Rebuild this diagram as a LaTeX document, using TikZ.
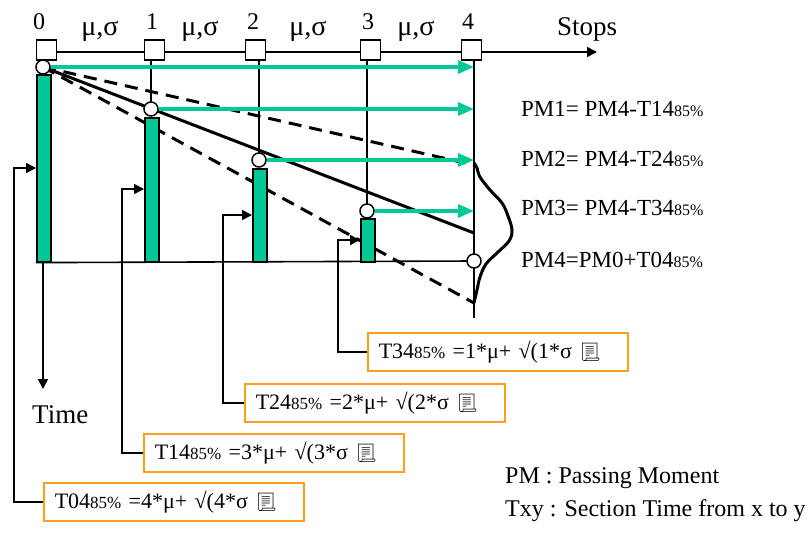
\documentclass[tikz,border=0pt]{standalone}
\usepackage{fontspec}
\setmainfont{Liberation Serif}
\newfontfamily\emojifont{Noto Emoji}
\usetikzlibrary{arrows.meta,backgrounds}
\definecolor{bargreen}{RGB}{0,200,150}
\definecolor{boxorange}{RGB}{250,160,30}
\newcommand\subpct[1][17]{{\fontsize{#1}{#1}\selectfont 85\%}}
\newcommand\docicon{{\emojifont\fontsize{18}{18}\selectfont 📃}}
\begin{document}
\begin{tikzpicture}[x=1pt,y=-1pt,
  thinline/.style={line width=1.6pt},
  stopbox/.style={draw, fill=white, minimum size=20pt, inner sep=0pt, line width=1.4pt},
  pmcircle/.style={circle, draw, fill=white, minimum size=14pt, inner sep=0pt, line width=1.5pt},
  barbox/.style={draw, fill=bargreen, line width=1.6pt, minimum width=14pt, inner sep=0pt, anchor=north west},
  garrow/.style={draw=bargreen, line width=3.2pt, -{Triangle[length=16pt,width=13pt]}},
  mainline/.style={line width=3pt},
  dashline/.style={line width=3pt, dash pattern=on 13pt off 8pt},
  brarrow/.style={thinline, -{Triangle[length=10pt,width=10pt]}},
  fbox/.style={draw=boxorange, line width=1.6pt, minimum height=38pt, text width=238pt, inner xsep=11pt, inner ysep=0pt, align=left, anchor=west, font=\fontsize{22}{24}\selectfont},
  digit/.style={anchor=base, inner sep=0pt, font=\fontsize{24}{26}\selectfont},
  musig/.style={anchor=base, inner sep=0pt, font=\fontsize{28}{30}\selectfont},
  pmlabel/.style={anchor=base west, inner sep=0pt, font=\fontsize{23}{26}\selectfont},
  legend/.style={anchor=base west, inner sep=0pt, font=\fontsize{24}{26}\selectfont},
  bigtext/.style={anchor=base west, inner sep=0pt, font=\fontsize{27}{30}\selectfont}
]
\useasboundingbox (0,0) rectangle (809,538);

% stop boxes on the top axis
\node[stopbox] (s0) at (46.5,50) {};
\node[stopbox] (s1) at (154.5,50) {};
\node[stopbox] (s2) at (255.5,50) {};
\node[stopbox] (s3) at (370.5,50) {};
\node[stopbox] (s4) at (471.5,50) {};
\coordinate (stopsend) at (597,52);
\draw[thinline] (s0.east |- 0,52) -- (s1.west |- 0,52);
\draw[thinline] (s1.east |- 0,52) -- (s2.west |- 0,52);
\draw[thinline] (s2.east |- 0,52) -- (s3.west |- 0,52);
\draw[thinline] (s3.east |- 0,52) -- (s4.west |- 0,52);
\draw[brarrow] (s4.east |- 0,52) -- (stopsend);

% labels above the axis
\node[digit] (d0) at (39,29) {0};
\node[digit] (d1) at (152,29) {1};
\node[digit] (d2) at (253,29) {2};
\node[digit] (d3) at (368,29) {3};
\node[digit] (d4) at (468,29) {4};
\node[musig] (m1) at (100,35) {μ,σ};
\node[musig] (m2) at (200,35) {μ,σ};
\node[musig] (m3) at (308,35) {μ,σ};
\node[musig] (m4) at (416,35) {μ,σ};
\node[bigtext] (stops) at (557,35) {Stops};

% passing-moment circles
\node[pmcircle] (c0) at (43,67) {};
\node[pmcircle] (c1) at (151,109) {};
\node[pmcircle] (c2) at (259,160) {};
\node[pmcircle] (c3) at (367,211) {};
\node[pmcircle] (c4) at (474,261) {};

% bars
\node[barbox, minimum height=187pt] (b0) at (36,74) {};
\node[barbox, minimum height=144pt] (b1) at (144,117) {};
\node[barbox, minimum height=93pt] (b2) at (252,168) {};
\node[barbox, minimum height=43pt] (b3) at (360,218) {};

\coordinate (v4end) at (474,318);
\coordinate (esolid) at (474,233);
\coordinate (edashup) at (474,165);
\coordinate (edashlo) at (474,303);

\begin{scope}[on background layer]
  % thin verticals
  \draw[thinline] (c1 |- s1.south) -- (c1.center);
  \draw[thinline] (c2 |- s2.south) -- (c2.center);
  \draw[thinline] (c3 |- s3.south) -- (c3.center);
  \draw[thinline] (c4 |- s4.south) -- (v4end);
  % baseline
  \draw[thinline] (b0.south west) -- (c4.center);
  % diagonals
  \draw[mainline] (c0.center) -- (esolid);
  \draw[dashline] (c0.center) -- (edashup);
  \draw[dashline] (c0.center) -- (edashlo);
\end{scope}

% distribution curve
\draw[mainline, line join=round] plot[smooth, tension=0.6] coordinates {
  (474,163) (477,168) (480,177) (490,190) (502,203) (508,216) (512,230)
  (509,241) (497,253) (486,264) (480,277) (477,290) (474,303)};

% green arrows
\draw[garrow] (c0.east) -- (c0 -| v4end);
\draw[garrow] (c1.east) -- (c1 -| v4end);
\draw[garrow] (c2.east) -- (c2 -| v4end);
\draw[garrow] (c3.east) -- (c3 -| v4end);

% time axis
\coordinate (timeend) at (43,389);
\draw[brarrow] (b0.south -| c0) -- (timeend);
\node[bigtext] (time) at (32,423) {Time};

% PM labels
\node[pmlabel] (pm1) at (521,116.5) {PM1= PM4-T14\subpct[16]};
\node[pmlabel] (pm2) at (521,166) {PM2= PM4-T24\subpct[16]};
\node[pmlabel] (pm3) at (521,215) {PM3= PM4-T34\subpct[16]};
\node[pmlabel] (pm4) at (521,267) {PM4=PM0+T04\subpct[16]};

% formula boxes
\node[fbox] (t34) at (367,352) {T34\subpct{} =1*μ+ √(1*σ \docicon};
\node[fbox] (t24) at (244,403) {T24\subpct{} =2*μ+ √(2*σ \docicon};
\node[fbox] (t14) at (143,453) {T14\subpct{} =3*μ+ √(3*σ \docicon};
\node[fbox] (t04) at (43,502) {T04\subpct{} =4*μ+ √(4*σ \docicon};

% bracket connectors
\coordinate (k0) at (14,168);
\coordinate (k1) at (122,189);
\coordinate (k2) at (223,215);
\coordinate (k3) at (338,240);
\draw[brarrow] (t04.west) -| (k0) -- (k0 -| b0.west);
\draw[brarrow] (t14.west) -| (k1) -- (k1 -| b1.west);
\draw[brarrow] (t24.west) -| (k2) -- (k2 -| b2.west);
\draw[brarrow] (t34.west) -| (k3) -- (k3 -| b3.west);

% legend
\node[legend] (lg1) at (505,483) {PM : Passing Moment};
\node[legend] (lg2) at (505,516) {Txy : Section Time from x to y};
\end{tikzpicture}
\end{document}
